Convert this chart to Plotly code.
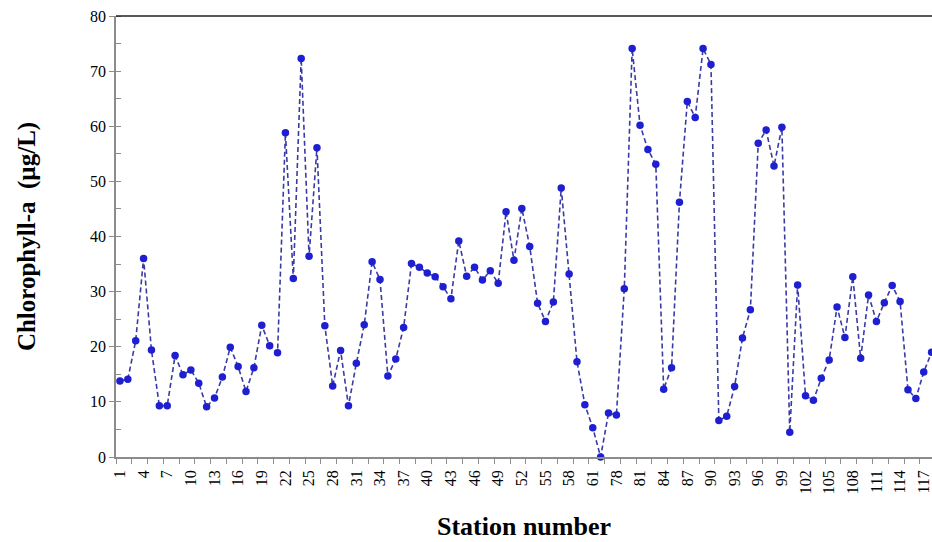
import plotly.graph_objects as go

stations = list(range(1, 64)) + list(range(78, 119))
chl_a = [
    13.8, 14.1, 21.1, 36.0, 19.4, 9.3, 9.3, 18.4, 14.9, 15.8,
    13.4, 9.1, 10.7, 14.5, 19.9, 16.4, 11.9, 16.2, 23.9, 20.2,
    18.9, 58.8, 32.4, 72.3, 36.4, 56.1, 23.8, 12.9, 19.3, 9.3,
    17.0, 24.0, 35.4, 32.2, 14.7, 17.8, 23.5, 35.1, 34.4, 33.4,
    32.7, 30.9, 28.7, 39.2, 32.8, 34.4, 32.1, 33.8, 31.5, 44.5,
    35.7, 45.1, 38.2, 27.9, 24.6, 28.1, 48.8, 33.2, 17.3, 9.5,
    5.3, 0.0, 8.0, 7.6, 30.5, 74.1, 60.2, 55.8, 53.1, 12.3,
    16.2, 46.2, 64.5, 61.6, 74.1, 71.2, 6.6, 7.4, 12.8, 21.6,
    26.7, 56.9, 59.3, 52.8, 59.8, 4.5, 31.2, 11.1, 10.3, 14.3,
    17.6, 27.2, 21.7, 32.7, 17.9, 29.4, 24.6, 28.0, 31.1, 28.2,
    12.2, 10.6, 15.4, 19.0,
]

x_idx = list(range(len(stations)))
tick_idx = x_idx[::3]
tick_text = [str(stations[i]) for i in tick_idx]

FONT = "Liberation Serif, Times New Roman, serif"

fig = go.Figure()
fig.add_trace(go.Scatter(
    x=x_idx, y=chl_a, mode="lines+markers",
    line=dict(color="#3a3aa6", width=1.6, dash="5px,3px"),
    marker=dict(color="#1f1fd2", size=7.5),
    cliponaxis=False, showlegend=False,
))

fig.add_shape(type="line", xref="paper", yref="paper", x0=0, x1=1, y0=1, y1=1,
              line=dict(color="#222222", width=1.6))

fig.update_layout(
    width=932, height=542,
    margin=dict(l=116, r=0, t=16, b=85),
    paper_bgcolor="white", plot_bgcolor="white",
    font=dict(family=FONT, color="black"),
    xaxis=dict(
        range=[-0.5, 103.05],
        tickmode="array", tickvals=tick_idx, ticktext=tick_text,
        tickangle=-90, tickfont=dict(size=16, family=FONT),
        ticks="outside", ticklen=5, tickcolor="rgba(0,0,0,0)",
        showline=True, linecolor="#8c8c8c", linewidth=1.5,
        showgrid=False, zeroline=False,
        minor=dict(tick0=-0.5, dtick=2, ticks="outside", ticklen=5,
                   tickcolor="#8c8c8c", tickwidth=1, showgrid=False),
        title=dict(text="<b>Station number</b>", font=dict(size=26, family=FONT),
                   standoff=24),
        automargin=False,
    ),
    yaxis=dict(
        range=[0, 80], tickmode="linear", tick0=0, dtick=10,
        tickfont=dict(size=16, family=FONT),
        ticks="outside", ticklen=5, tickcolor="#8c8c8c", tickwidth=1,
        showline=True, linecolor="#8c8c8c", linewidth=1.5,
        showgrid=False, zeroline=False,
        minor=dict(dtick=5, ticks="inside", ticklen=5, tickcolor="#8c8c8c",
                   tickwidth=1, showgrid=False),
        title=dict(text="<b>Chlorophyll-a\u00a0\u00a0(µg/L)</b>",
                   font=dict(size=25, family=FONT), standoff=47),
        automargin=False,
    ),
)

fig.write_html("out.html", config={"displayModeBar": False},
               post_script="document.body.style.margin='0';document.body.style.padding='0';")
